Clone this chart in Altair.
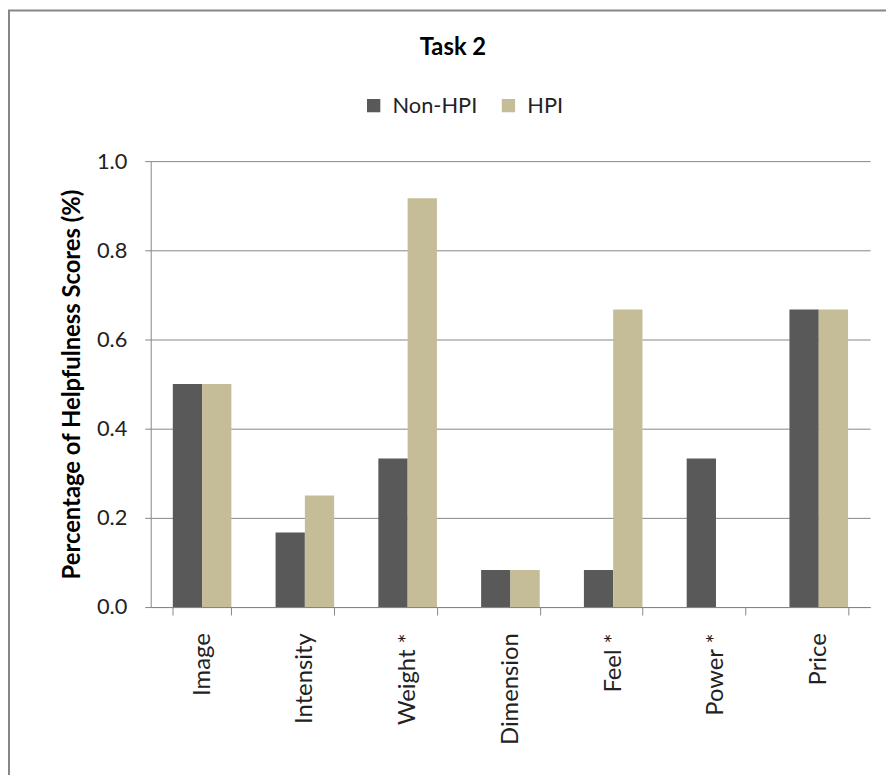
import altair as alt
import pandas as pd

categories = ["Image", "Intensity", "Weight *", "Dimension", "Feel *", "Power *", "Price"]
non_hpi = [0.5, 0.167, 0.333, 0.083, 0.083, 0.333, 0.667]
hpi = [0.5, 0.25, 0.917, 0.083, 0.667, 0.0, 0.667]
series = ["Non-HPI", "HPI"]
colors = ["#595959", "#C4BD97"]
y_ticks = [0.0, 0.2, 0.4, 0.6, 0.8, 1.0]

rows = []
for c, a, b in zip(categories, non_hpi, hpi):
    rows.append({"category": c, "series": "Non-HPI", "value": a})
    rows.append({"category": c, "series": "HPI", "value": b})
df = pd.DataFrame(rows)

W, H = 726, 450
GRAY = "#868686"
TXT = "#222222"

bars = alt.Chart(df).mark_bar().encode(
    x=alt.X(
        "category:N",
        sort=categories,
        scale=alt.Scale(paddingInner=0.43, paddingOuter=0.215),
        axis=alt.Axis(
            title=None, labelAngle=-90, tickBand="extent", tickSize=8,
            labelPadding=18, labelFontSize=24, labelColor=TXT, grid=False,
            domainColor=GRAY, tickColor=GRAY,
        ),
    ),
    xOffset=alt.XOffset("series:N", sort=series,
                        scale=alt.Scale(paddingInner=0, paddingOuter=0)),
    y=alt.Y(
        "value:Q",
        scale=alt.Scale(domain=[0, 1]),
        axis=alt.Axis(
            title="Percentage of Helpfulness Scores (%)", values=y_ticks, format=".1f",
            labelFontSize=22, labelColor=TXT, labelPadding=18, tickSize=6,
            tickColor=GRAY, domainColor=GRAY, gridColor=GRAY, grid=True,
            titleFontSize=24, titleFontWeight="bold", titleColor="#000000",
            titlePadding=12,
        ),
    ),
    color=alt.Color(
        "series:N", sort=series,
        scale=alt.Scale(domain=series, range=colors),
        legend=alt.Legend(
            title=None, orient="none", legendX=214, legendY=-67,
            direction="horizontal", symbolType="square", symbolSize=180,
            symbolStrokeWidth=0, labelFontSize=22, labelColor=TXT,
            columnPadding=20, labelOffset=8,
        ),
    ),
)

frame = alt.Chart(pd.DataFrame({"k": [0]})).mark_rect(
    filled=False, stroke=GRAY, strokeWidth=2, clip=False
).encode(
    x=alt.value(-143), x2=alt.value(W + 200),
    y=alt.value(-152), y2=alt.value(H + 300),
)

chart = alt.layer(frame, bars).properties(
    width=W, height=H,
    title=alt.Title("Task 2", fontSize=24, fontWeight="bold", color="#000000",
                    anchor="middle", dx=-58, offset=-51),
    autosize=alt.AutoSizeParams(type="none"),
    padding={"left": 144, "top": 151, "right": 16, "bottom": 170},
).configure(font="Lato").configure_view(strokeWidth=0)

chart.save("out.html", embed_options={"renderer": "svg", "actions": False})
